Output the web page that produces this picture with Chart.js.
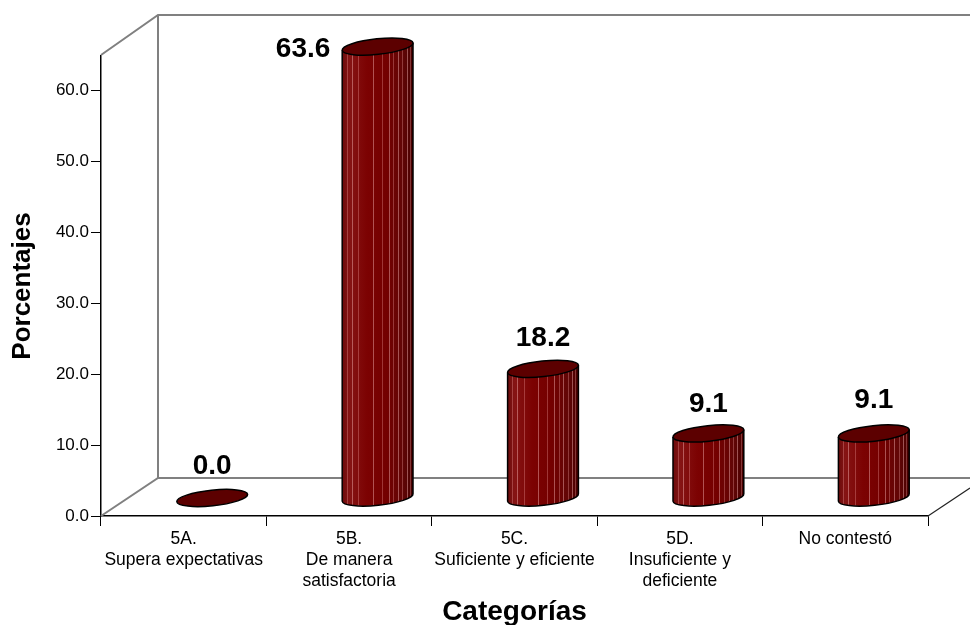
<!DOCTYPE html>
<html><head><meta charset="utf-8">
<style>html,body{margin:0;padding:0;background:#fff}#w{width:970px;height:625px;position:relative}</style>
<script src="https://cdn.jsdelivr.net/npm/chart.js@4"></script>
</head><body><div id="w"><canvas id="c" width="970" height="625"></canvas></div>
<script>
const categories = [["5A.","Supera expectativas"],["5B.","De manera","satisfactoria"],["5C.","Suficiente y eficiente"],["5D.","Insuficiente y","deficiente"],["No contestó"]];
const values = [0.0,63.6,18.2,9.1,9.1];
const valueLabels = ["0.0","63.6","18.2","9.1","9.1"];
const FONT = '"Liberation Sans", Arial, sans-serif';
const DX = 57, DY = 38;
const stripeFractions = [0.066,0.137,0.23,0.43,0.56,0.655,0.72,0.785,0.85,0.91,0.958];
const labelOffsets = [[0,-32],[-74.5,3],[0,-31],[0,-29],[0,-33]];

const scene = {
  id:'scene',
  beforeDatasetsDraw(chart){
    const {ctx,chartArea:a} = chart;
    ctx.save();
    ctx.strokeStyle='#808080'; ctx.lineWidth=2;
    ctx.beginPath();
    ctx.moveTo(a.left,a.top-1); ctx.lineTo(a.left+DX,a.top-41);
    ctx.lineTo(970,a.top-41);
    ctx.moveTo(a.left+DX,a.top-41); ctx.lineTo(a.left+DX,a.bottom-DY);
    ctx.moveTo(a.left,a.bottom); ctx.lineTo(a.left+DX,a.bottom-DY);
    ctx.lineTo(970,a.bottom-DY);
    ctx.stroke();
    ctx.strokeStyle='#222'; ctx.lineWidth=1.2;
    ctx.beginPath();
    ctx.moveTo(a.right,a.bottom); ctx.lineTo(970,a.bottom-28);
    ctx.stroke();
    ctx.restore();
  },
  afterDatasetsDraw(chart){
    const {ctx} = chart;
    const rx=35.6, ry=7.8, rot=-6*Math.PI/180;
    const ex=rx*Math.cos(rot), ey=rx*Math.sin(rot);
    chart.getDatasetMeta(0).data.forEach((bar,i)=>{
      const cx=bar.x+DX/2, by=bar.base-18, ty=bar.y-18;
      ctx.save();
      if(values[i]>0){
        const g=ctx.createLinearGradient(cx-ex,0,cx+ex,0);
        g.addColorStop(0,'#6b0c0c'); g.addColorStop(0.1,'#861414');
        g.addColorStop(0.35,'#7c0202'); g.addColorStop(0.62,'#740000');
        g.addColorStop(0.85,'#620606'); g.addColorStop(1,'#480000');
        ctx.beginPath();
        ctx.ellipse(cx,by,rx,ry,rot,0,Math.PI,false);
        ctx.lineTo(cx-ex,ty-ey);
        ctx.lineTo(cx+ex,ty+ey);
        ctx.closePath();
        ctx.fillStyle=g; ctx.fill();
        ctx.save(); ctx.clip();
        ctx.lineWidth=1;
        stripeFractions.forEach((f,k)=>{
          const x=Math.round(cx-ex+f*2*ex)+.5;
          ctx.strokeStyle=k%2?'rgba(255,195,195,.42)':'rgba(255,180,180,.3)';
          ctx.beginPath(); ctx.moveTo(x,ty-20); ctx.lineTo(x,by+20); ctx.stroke();
        });
        ctx.restore();
        ctx.beginPath();
        ctx.ellipse(cx,by,rx,ry,rot,0,Math.PI,false);
        ctx.lineTo(cx-ex,ty-ey);
        ctx.moveTo(cx+ex,by+ey); ctx.lineTo(cx+ex,ty+ey);
        ctx.strokeStyle='#000'; ctx.lineWidth=1.5; ctx.stroke();
      }
      ctx.beginPath();
      ctx.ellipse(cx,ty,rx,ry,rot,0,Math.PI*2);
      ctx.fillStyle='#5c0000'; ctx.fill();
      ctx.strokeStyle='#000'; ctx.lineWidth=1.5; ctx.stroke();
      ctx.fillStyle='#000'; ctx.font='bold 28px '+FONT;
      ctx.textAlign='center'; ctx.textBaseline='middle';
      ctx.fillText(valueLabels[i],cx+labelOffsets[i][0],ty+labelOffsets[i][1]);
      ctx.restore();
    });
  }
};

new Chart(document.getElementById('c'),{
  type:'bar',
  data:{labels:categories,datasets:[{data:values,backgroundColor:'transparent',borderWidth:0,barThickness:71}]},
  plugins:[scene],
  options:{
    responsive:false,animation:false,
    layout:{padding:{top:56,right:42,left:0,bottom:0}},
    plugins:{legend:{display:false},tooltip:{enabled:false}},
    scales:{
      x:{
        afterFit(s){s.height=109;},
        grid:{drawOnChartArea:false,color:'#000',tickLength:10,tickColor:'#000',offset:true},
        border:{color:'#000',width:1.5},
        ticks:{color:'#000',font:{family:FONT,size:17.5,lineHeight:1.2},padding:3,maxRotation:0,autoSkip:false},
        title:{display:true,text:'Categorías',color:'#000',font:{family:FONT,size:28,weight:'bold'},padding:{top:4,bottom:-4}}
      },
      y:{
        min:0,max:64.8,
        afterFit(s){s.width=101;},
        afterBuildTicks(s){s.ticks=s.ticks.filter(t=>t.value%10===0);},
        grid:{drawOnChartArea:false,tickLength:10,tickColor:'#000'},
        border:{color:'#000',width:1.5},
        ticks:{stepSize:10,color:'#000',font:{family:FONT,size:17},padding:2,callback:v=>v.toFixed(1)},
        title:{display:true,text:'Porcentajes',color:'#000',font:{family:FONT,size:26,weight:'bold'},padding:{top:7,bottom:0}}
      }
    }
  }
});
</script></body></html>
